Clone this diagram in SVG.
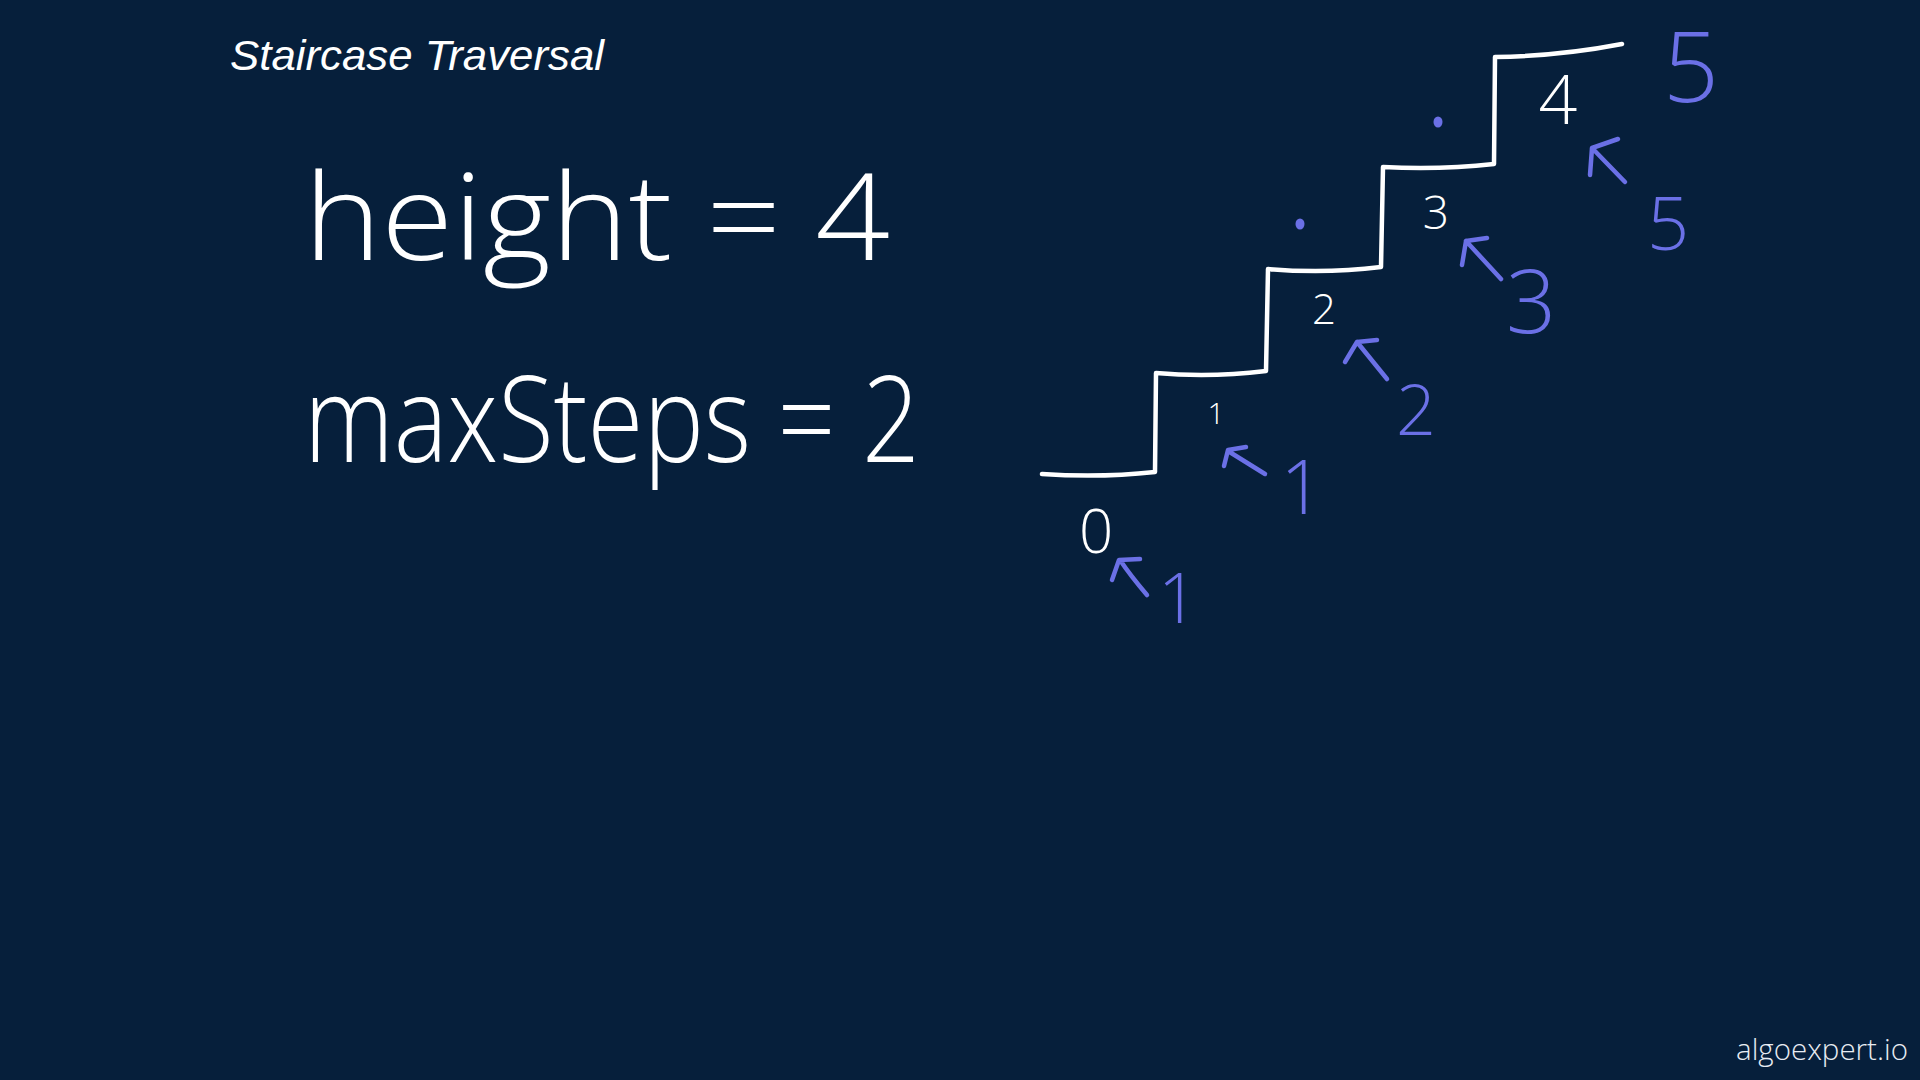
<svg xmlns="http://www.w3.org/2000/svg" width="1920" height="1080" viewBox="0 0 1920 1080">
<style>
.hw{font-family:"Open Sans","Noto Sans","Liberation Sans",sans-serif;font-weight:300;fill:#ffffff}
.bl{font-family:"Open Sans","Noto Sans","Liberation Sans",sans-serif;font-weight:300;fill:#6b70e6}
.arr{fill:none;stroke:#6b70e6;stroke-width:4.5;stroke-linecap:round;stroke-linejoin:round}
.stair{fill:none;stroke:#ffffff;stroke-width:4.5;stroke-linecap:round;stroke-linejoin:round}
</style>
<rect width="1920" height="1080" fill="#061f3b"/>
<g id="title">
<text x="230" y="70" font-family="'Liberation Sans',Arial,sans-serif" font-style="italic" font-size="43" fill="#ffffff" textLength="374" lengthAdjust="spacingAndGlyphs">Staircase Traversal</text>
</g>
<g id="height">
<text class="hw" x="304" y="260" font-size="120" textLength="586" lengthAdjust="spacingAndGlyphs">height = 4</text>
</g>
<g id="maxSteps">
<text class="hw" x="304" y="462" font-size="120" textLength="616" lengthAdjust="spacingAndGlyphs">maxSteps = 2</text>
</g>
<g id="staircase">
<path class="stair" d="M1042,474 Q1100,478 1155,472 L1156,373 Q1210,378 1266,371 L1268,269 Q1325,274 1381,267 L1383,167 Q1440,170 1494,164 L1495,57 Q1560,56 1622,44"/>
</g>
<g id="step-labels">
<text class="hw" x="1096" y="553" font-size="60" text-anchor="middle">0</text>
<text class="hw" x="1216" y="424" font-size="30" text-anchor="middle">1</text>
<text class="hw" x="1324" y="324" font-size="42" text-anchor="middle">2</text>
<text class="hw" x="1436" y="229" font-size="46" text-anchor="middle">3</text>
<text class="hw" x="1558" y="124" font-size="68" text-anchor="middle">4</text>
</g>
<g id="dots" fill="#6b70e6">
<ellipse cx="1300" cy="224" rx="4.5" ry="5.5"/>
<ellipse cx="1438" cy="122" rx="4.5" ry="5.5"/>
</g>
<g id="connectors">
<path class="arr" d="M1147,595 Q1130,575 1120,560 M1112,580 L1119,560 L1140,559"/>
<path class="arr" d="M1265,474 L1228,451 M1224,466 L1228,450 L1246,447"/>
<path class="arr" d="M1387,379 L1357,342 M1345,362 L1357,342 L1377,340"/>
<path class="arr" d="M1501,279 L1466,241 M1462,265 L1466,241 L1487,238"/>
<path class="arr" d="M1625,182 L1592,148 M1590,175 L1592,148 L1618,139"/>
</g>
<g id="counts">
<text class="bl" x="1178" y="623" font-size="70" text-anchor="middle">1</text>
<text class="bl" x="1302" y="514" font-size="75" text-anchor="middle">1</text>
<text class="bl" x="1416" y="435" font-size="70" text-anchor="middle">2</text>
<text class="bl" x="1531" y="333" font-size="88" text-anchor="middle">3</text>
<text class="bl" x="1668" y="250" font-size="74" text-anchor="middle">5</text>
<text class="bl" x="1691" y="102" font-size="98" text-anchor="middle">5</text>
</g>
<g id="watermark">
<text x="1736" y="1060" font-family="'Open Sans','Noto Sans',sans-serif" font-weight="300" font-size="30" fill="#e8ecf2" textLength="172" lengthAdjust="spacingAndGlyphs">algoexpert.io</text>
</g>
</svg>
